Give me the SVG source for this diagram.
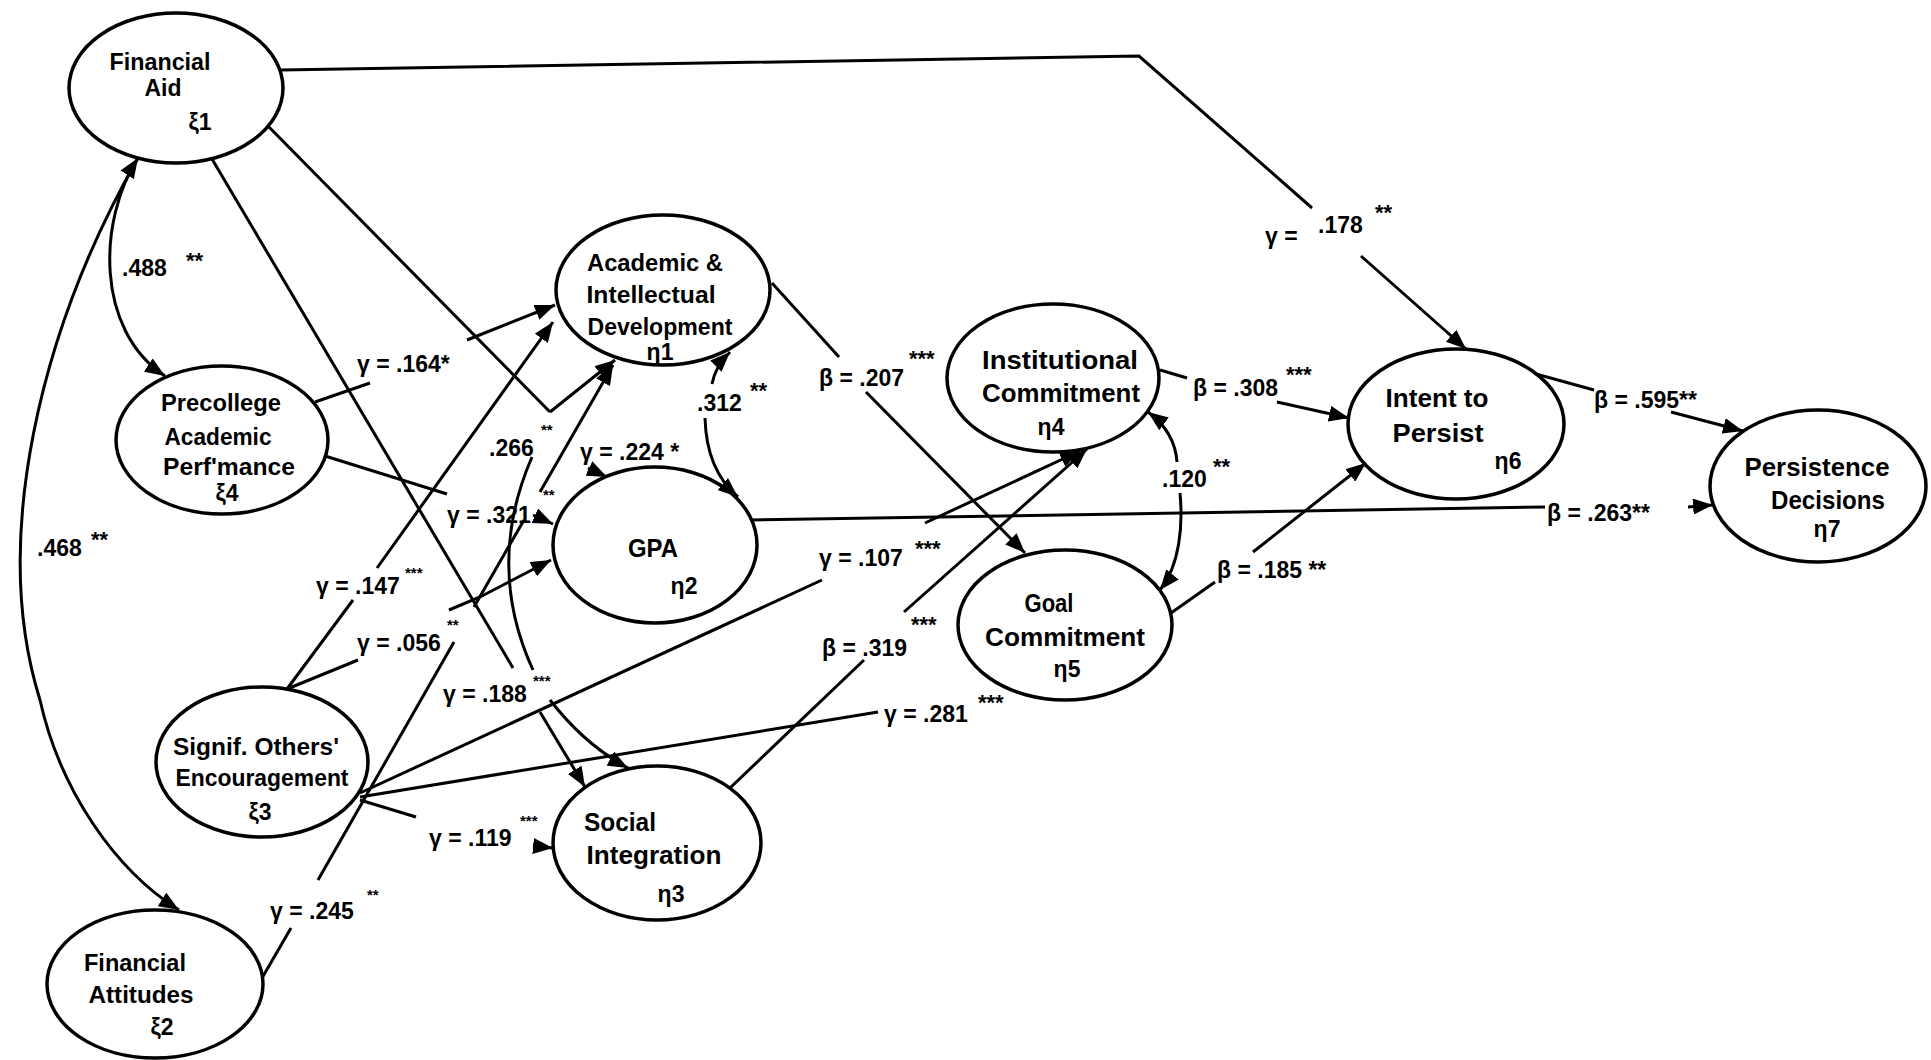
<svg xmlns="http://www.w3.org/2000/svg" width="1931" height="1060" viewBox="0 0 1931 1060">
<style>
text { font-family: "Liberation Sans", Arial, sans-serif; font-weight: bold; fill: #000; }
.n { font-size: 23px; text-anchor: middle; }
.nl { font-size: 26px; text-anchor: middle; }
.l { font-size: 23px; }
.s { font-size: 22px; }
.ss { font-size: 15px; }
.node ellipse { fill: none; stroke: #000; stroke-width: 3.5; }
#connectors path { fill: none; stroke: #000; stroke-width: 3; }
</style>
<defs>
<marker id="ah" markerUnits="userSpaceOnUse" markerWidth="22" markerHeight="16" refX="20" refY="8" orient="auto-start-reverse" viewBox="0 0 22 16">
<path d="M0,0 L20,8 L0,16 z" fill="#000"/>
</marker>
</defs>
<rect width="1931" height="1060" fill="#fff"/>

<g id="connectors">
<path d="M281,70 L1139,56 L1312,208"/>
<path d="M1361,256 L1466,349" marker-end="url(#ah)"/>
<path d="M138,158 C 98,220 95,330 165,376" marker-start="url(#ah)" marker-end="url(#ah)"/>
<path d="M138,158 C 40,330 -10,540 40,700 C 60,790 115,870 179,910" marker-end="url(#ah)"/>
<path d="M268,126 L550,412"/>
<path d="M550,412 L615,360" marker-end="url(#ah)"/>
<path d="M532,457 Q 485,565 533,670"/>
<path d="M550,700 Q 585,745 628,768" marker-end="url(#ah)"/>
<path d="M212,159 L513,668"/>
<path d="M540,712 L585,787" marker-end="url(#ah)"/>
<path d="M315,402 L370,383"/>
<path d="M467,340 L555,305" marker-end="url(#ah)"/>
<path d="M325,456 L447,494"/>
<path d="M533,515 L553,524" marker-end="url(#ah)"/>
<path d="M262,978 L291,928"/>
<path d="M318,880 L454,642"/>
<path d="M474,607 L524,520"/>
<path d="M540,492 L613,365" marker-end="url(#ah)"/>
<path d="M287,689 L353,600"/>
<path d="M377,568 L553,322" marker-end="url(#ah)"/>
<path d="M287,689 L358,660"/>
<path d="M449,610 L480,597 L551,560" marker-end="url(#ah)"/>
<path d="M360,800 L416,817"/>
<path d="M533,846 L553,848" marker-end="url(#ah)"/>
<path d="M360,793 L822,580"/>
<path d="M925,523 L1080,451" marker-end="url(#ah)"/>
<path d="M730,788 L864,660"/>
<path d="M904,612 L1087,449" marker-end="url(#ah)"/>
<path d="M360,797 L878,712"/>
<path d="M772,283 L839,357"/>
<path d="M866,392 L1025,553" marker-end="url(#ah)"/>
<path d="M1160,370 L1187,378"/>
<path d="M1277,402 L1349,418" marker-end="url(#ah)"/>
<path d="M1171,613 L1215,582"/>
<path d="M1253,552 L1366,463" marker-end="url(#ah)"/>
<path d="M1536,374 L1594,390"/>
<path d="M1671,412 L1743,431" marker-end="url(#ah)"/>
<path d="M752,520 L1545,507"/>
<path d="M1688,507 L1713,505" marker-end="url(#ah)"/>
<path d="M730,352 C 720,362 714,372 712,384" marker-start="url(#ah)"/>
<path d="M705,418 C 706,455 718,480 738,497" marker-end="url(#ah)"/>
<path d="M1148,412 Q 1175,432 1177,462" marker-start="url(#ah)"/>
<path d="M1180,493 C 1183,525 1180,565 1160,590" marker-end="url(#ah)"/>
<path d="M588,468 L607,477" marker-end="url(#ah)"/>
</g>

<g id="labels">
<text class="l" x="1265" y="244">γ =</text><text class="l" x="1318" y="233">.178</text><text class="s" x="1375" y="220">**</text>
<text class="l" x="122" y="276">.488</text><text class="s" x="186" y="268">**</text>
<text class="l" x="37" y="556">.468</text><text class="s" x="91" y="547">**</text>
<text class="l" x="357" y="372">γ = .164*</text>
<text class="l" x="489" y="456">.266</text><text class="ss" x="541" y="435">**</text>
<text class="l" x="447" y="523">γ = .321</text><text class="ss" x="543" y="500">**</text>
<text class="l" x="580" y="460">γ = .224 *</text>
<text class="l" x="697" y="411">.312</text><text class="s" x="750" y="398">**</text>
<text class="l" x="316" y="594">γ = .147</text><text class="ss" x="405" y="578">***</text>
<text class="l" x="357" y="651">γ = .056</text><text class="ss" x="447" y="630">**</text>
<text class="l" x="443" y="702">γ = .188</text><text class="ss" x="533" y="686">***</text>
<text class="l" x="429" y="846">γ = .119</text><text class="ss" x="520" y="826">***</text>
<text class="l" x="270" y="919">γ = .245</text><text class="ss" x="367" y="900">**</text>
<text class="l" x="819" y="386">β = .207</text><text class="s" x="909" y="366">***</text>
<text class="l" x="819" y="566">γ = .107</text><text class="s" x="915" y="556">***</text>
<text class="l" x="822" y="656">β = .319</text><text class="s" x="911" y="632">***</text>
<text class="l" x="884" y="722">γ = .281</text><text class="s" x="978" y="710">***</text>
<text class="l" x="1193" y="396">β = .308</text><text class="s" x="1286" y="382">***</text>
<text class="l" x="1162" y="487">.120</text><text class="s" x="1213" y="474">**</text>
<text class="l" x="1217" y="578">β = .185 **</text>
<text class="l" x="1594" y="408">β = .595**</text>
<text class="l" x="1547" y="521">β = .263**</text>
</g>

<g id="financial-aid" class="node">
<ellipse cx="176" cy="88" rx="107" ry="75"/>
<text class="n" x="160" y="70" textLength="101" lengthAdjust="spacingAndGlyphs">Financial</text>
<text class="n" x="163" y="96">Aid</text>
<text class="n" x="200" y="130">ξ1</text>
</g>
<g id="precollege" class="node">
<ellipse cx="222" cy="440" rx="106" ry="74"/>
<text class="n" x="221" y="411" textLength="120" lengthAdjust="spacingAndGlyphs">Precollege</text>
<text class="n" x="218" y="445" textLength="107" lengthAdjust="spacingAndGlyphs">Academic</text>
<text class="n" x="229" y="475" textLength="132" lengthAdjust="spacingAndGlyphs">Perf'mance</text>
<text class="n" x="227" y="501">ξ4</text>
</g>
<g id="signif-others" class="node">
<ellipse cx="262" cy="762" rx="106" ry="75"/>
<text class="n" x="256" y="755" textLength="166" lengthAdjust="spacingAndGlyphs">Signif. Others'</text>
<text class="n" x="262" y="786" textLength="173" lengthAdjust="spacingAndGlyphs">Encouragement</text>
<text class="n" x="260" y="820">ξ3</text>
</g>
<g id="financial-attitudes" class="node">
<ellipse cx="155" cy="984" rx="108" ry="74"/>
<text class="n" x="135" y="971" textLength="102" lengthAdjust="spacingAndGlyphs">Financial</text>
<text class="n" x="141" y="1003" textLength="105" lengthAdjust="spacingAndGlyphs">Attitudes</text>
<text class="n" x="162" y="1035">ξ2</text>
</g>
<g id="academic" class="node">
<ellipse cx="663" cy="290" rx="107" ry="75"/>
<text class="n" x="655" y="271" textLength="136" lengthAdjust="spacingAndGlyphs">Academic &amp;</text>
<text class="n" x="651" y="303" textLength="129" lengthAdjust="spacingAndGlyphs">Intellectual</text>
<text class="n" x="660" y="335" textLength="145" lengthAdjust="spacingAndGlyphs">Development</text>
<text class="n" x="660" y="360">η1</text>
</g>
<g id="gpa" class="node">
<ellipse cx="655" cy="545" rx="102" ry="78"/>
<text class="nl" x="653" y="557" textLength="50" lengthAdjust="spacingAndGlyphs">GPA</text>
<text class="n" x="684" y="594">η2</text>
</g>
<g id="social" class="node">
<ellipse cx="657" cy="843" rx="104" ry="77"/>
<text class="nl" x="620" y="831" textLength="72" lengthAdjust="spacingAndGlyphs">Social</text>
<text class="nl" x="654" y="864" textLength="135" lengthAdjust="spacingAndGlyphs">Integration</text>
<text class="n" x="671" y="902">η3</text>
</g>
<g id="institutional" class="node">
<ellipse cx="1053" cy="378" rx="106" ry="74"/>
<text class="nl" x="1060" y="369" textLength="156" lengthAdjust="spacingAndGlyphs">Institutional</text>
<text class="nl" x="1061" y="402" textLength="158" lengthAdjust="spacingAndGlyphs">Commitment</text>
<text class="n" x="1051" y="435">η4</text>
</g>
<g id="goal" class="node">
<ellipse cx="1065" cy="625" rx="107" ry="75"/>
<text class="nl" x="1049" y="612" textLength="49" lengthAdjust="spacingAndGlyphs">Goal</text>
<text class="nl" x="1065" y="646" textLength="160" lengthAdjust="spacingAndGlyphs">Commitment</text>
<text class="n" x="1067" y="677">η5</text>
</g>
<g id="intent" class="node">
<ellipse cx="1456" cy="424" rx="108" ry="75"/>
<text class="nl" x="1437" y="407" textLength="103" lengthAdjust="spacingAndGlyphs">Intent to</text>
<text class="nl" x="1438" y="442" textLength="91" lengthAdjust="spacingAndGlyphs">Persist</text>
<text class="n" x="1508" y="469">η6</text>
</g>
<g id="persistence" class="node">
<ellipse cx="1818" cy="486" rx="108" ry="76"/>
<text class="nl" x="1817" y="476" textLength="145" lengthAdjust="spacingAndGlyphs">Persistence</text>
<text class="nl" x="1828" y="509" textLength="114" lengthAdjust="spacingAndGlyphs">Decisions</text>
<text class="n" x="1827" y="537">η7</text>
</g>
</svg>
